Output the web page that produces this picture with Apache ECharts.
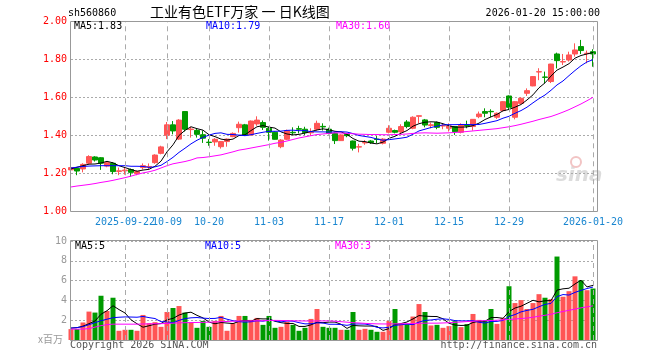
<!DOCTYPE html>
<html><head><meta charset="utf-8">
<script src="https://cdn.jsdelivr.net/npm/echarts@6/dist/echarts.min.js"></script>
<style>html,body{margin:0;padding:0;background:#fff}#c{width:660px;height:360px}</style>
</head><body><div id="c"></div>
<script>
const dates = ['2025-09-09','2025-09-10','2025-09-11','2025-09-12','2025-09-15','2025-09-16','2025-09-17','2025-09-18','2025-09-19','2025-09-22','2025-09-23','2025-09-24','2025-09-25','2025-09-26','2025-09-29','2025-09-30',
'2025-10-09','2025-10-10','2025-10-13','2025-10-14','2025-10-15','2025-10-16','2025-10-17','2025-10-20','2025-10-21','2025-10-22','2025-10-23','2025-10-24','2025-10-27','2025-10-28','2025-10-29','2025-10-30','2025-10-31',
'2025-11-03','2025-11-04','2025-11-05','2025-11-06','2025-11-07','2025-11-10','2025-11-11','2025-11-12','2025-11-13','2025-11-14','2025-11-17','2025-11-18','2025-11-19','2025-11-20','2025-11-21','2025-11-24','2025-11-25','2025-11-26','2025-11-27','2025-11-28',
'2025-12-01','2025-12-02','2025-12-03','2025-12-04','2025-12-05','2025-12-08','2025-12-09','2025-12-10','2025-12-11','2025-12-12','2025-12-15','2025-12-16','2025-12-17','2025-12-18','2025-12-19','2025-12-22','2025-12-23','2025-12-24','2025-12-25','2025-12-26','2025-12-29','2025-12-30','2025-12-31',
'2026-01-05','2026-01-06','2026-01-07','2026-01-08','2026-01-09','2026-01-12','2026-01-13','2026-01-14','2026-01-15','2026-01-16','2026-01-19','2026-01-20'];

const openP = [1.218,1.226,1.223,1.253,1.286,1.282,1.238,1.253,1.210,1.213,1.220,1.198,1.230,1.233,1.256,1.305,1.400,1.455,1.380,1.525,1.430,1.426,1.403,1.364,1.365,1.340,1.367,1.393,1.440,1.455,1.402,1.460,1.467,1.437,1.416,1.340,1.379,1.416,1.435,1.432,1.413,1.432,1.447,1.432,1.410,1.372,1.405,1.370,1.338,1.360,1.370,1.380,1.358,1.416,1.425,1.418,1.470,1.437,1.500,1.481,1.452,1.467,1.449,1.437,1.446,1.416,1.452,1.446,1.498,1.525,1.526,1.495,1.530,1.607,1.495,1.568,1.621,1.660,1.733,1.707,1.683,1.828,1.786,1.796,1.828,1.867,1.830,1.840];
const closeP = [1.230,1.212,1.247,1.288,1.270,1.253,1.256,1.209,1.213,1.217,1.205,1.209,1.240,1.236,1.296,1.339,1.455,1.423,1.480,1.432,1.433,1.405,1.385,1.362,1.379,1.367,1.380,1.410,1.458,1.402,1.475,1.480,1.442,1.416,1.379,1.375,1.425,1.413,1.432,1.414,1.416,1.463,1.444,1.410,1.372,1.402,1.398,1.332,1.340,1.362,1.362,1.378,1.380,1.437,1.416,1.446,1.446,1.495,1.503,1.454,1.455,1.442,1.451,1.449,1.419,1.454,1.449,1.484,1.512,1.516,1.524,1.516,1.577,1.547,1.577,1.595,1.635,1.709,1.735,1.705,1.775,1.793,1.788,1.823,1.849,1.846,1.832,1.828];
const highP = [1.244,1.230,1.253,1.295,1.290,1.285,1.262,1.258,1.230,1.233,1.225,1.215,1.252,1.252,1.300,1.345,1.470,1.475,1.485,1.525,1.445,1.437,1.425,1.380,1.385,1.370,1.383,1.415,1.472,1.460,1.478,1.500,1.478,1.445,1.420,1.380,1.430,1.442,1.450,1.445,1.437,1.477,1.463,1.440,1.415,1.405,1.410,1.372,1.355,1.375,1.375,1.396,1.385,1.453,1.430,1.458,1.480,1.500,1.504,1.486,1.467,1.472,1.463,1.463,1.448,1.463,1.477,1.485,1.525,1.542,1.537,1.520,1.580,1.610,1.580,1.600,1.647,1.712,1.753,1.735,1.776,1.835,1.828,1.840,1.884,1.902,1.846,1.853];
const lowP = [1.205,1.190,1.205,1.248,1.262,1.218,1.232,1.195,1.190,1.193,1.182,1.190,1.220,1.220,1.250,1.300,1.380,1.405,1.375,1.420,1.388,1.388,1.360,1.345,1.345,1.330,1.340,1.390,1.414,1.400,1.400,1.450,1.428,1.372,1.378,1.332,1.375,1.402,1.410,1.402,1.397,1.425,1.425,1.405,1.354,1.370,1.390,1.320,1.310,1.350,1.355,1.358,1.352,1.410,1.410,1.410,1.437,1.432,1.463,1.442,1.437,1.432,1.432,1.420,1.402,1.410,1.437,1.425,1.490,1.495,1.495,1.486,1.525,1.533,1.484,1.565,1.607,1.658,1.690,1.674,1.675,1.752,1.770,1.788,1.814,1.828,1.779,1.761];

const ma5 = [1.223,1.232,1.240,1.248,1.249,1.254,1.263,1.255,1.240,1.230,1.220,1.211,1.217,1.221,1.237,1.264,1.313,1.350,1.399,1.426,1.445,1.435,1.427,1.403,1.393,1.380,1.375,1.380,1.399,1.403,1.425,1.445,1.451,1.443,1.438,1.418,1.407,1.402,1.405,1.412,1.420,1.428,1.434,1.429,1.421,1.418,1.405,1.383,1.369,1.367,1.359,1.355,1.364,1.384,1.395,1.411,1.425,1.448,1.461,1.469,1.471,1.470,1.461,1.450,1.443,1.443,1.444,1.451,1.464,1.483,1.497,1.510,1.529,1.536,1.548,1.562,1.586,1.613,1.650,1.676,1.712,1.743,1.759,1.777,1.806,1.820,1.828,1.836];
const ma10 = [1.228,1.232,1.236,1.238,1.239,1.240,1.240,1.240,1.240,1.240,1.237,1.237,1.236,1.231,1.234,1.242,1.262,1.284,1.310,1.332,1.355,1.374,1.389,1.401,1.410,1.413,1.405,1.404,1.401,1.398,1.403,1.410,1.416,1.421,1.421,1.422,1.426,1.427,1.424,1.425,1.419,1.418,1.418,1.417,1.417,1.419,1.417,1.409,1.399,1.394,1.389,1.380,1.374,1.377,1.381,1.385,1.390,1.406,1.423,1.432,1.441,1.448,1.455,1.456,1.456,1.457,1.457,1.456,1.457,1.463,1.470,1.477,1.490,1.500,1.516,1.530,1.548,1.571,1.593,1.612,1.637,1.665,1.686,1.714,1.741,1.766,1.786,1.798];
const ma30 = [1.128,1.133,1.137,1.141,1.146,1.152,1.157,1.163,1.170,1.177,1.185,1.194,1.202,1.208,1.216,1.228,1.240,1.250,1.256,1.262,1.270,1.281,1.283,1.287,1.292,1.297,1.305,1.313,1.322,1.327,1.333,1.339,1.345,1.351,1.358,1.363,1.370,1.378,1.386,1.392,1.398,1.404,1.407,1.410,1.413,1.412,1.410,1.408,1.406,1.405,1.404,1.404,1.403,1.403,1.404,1.405,1.407,1.410,1.412,1.413,1.412,1.411,1.412,1.413,1.415,1.417,1.420,1.423,1.426,1.429,1.432,1.435,1.440,1.445,1.451,1.458,1.466,1.474,1.483,1.491,1.499,1.510,1.522,1.535,1.550,1.565,1.582,1.600];

const vol = [1.10,1.10,1.77,2.87,2.77,4.47,2.93,4.27,0.93,1.03,1.03,0.93,2.53,1.70,1.80,1.33,2.83,3.23,3.43,2.77,1.77,1.23,1.93,1.33,1.93,2.43,0.93,1.70,2.43,2.43,2.03,2.23,1.53,2.43,1.23,1.33,1.83,1.53,0.93,1.23,2.13,3.13,1.33,1.23,1.23,1.03,1.03,2.83,1.03,1.13,1.03,0.83,0.83,1.93,3.13,1.60,1.60,2.37,3.63,2.83,1.47,1.53,1.23,1.40,1.90,1.30,1.60,2.63,2.03,1.93,3.13,1.63,2.23,5.43,3.73,4.03,3.13,3.73,4.63,4.27,4.13,8.43,4.37,4.93,6.43,6.03,5.03,5.20];
const vma5 = [1.20,1.25,1.40,1.65,1.92,2.60,2.96,3.46,3.07,2.73,2.04,1.64,1.29,1.44,1.60,1.66,2.04,2.18,2.52,2.72,2.81,2.49,2.23,1.81,1.64,1.77,1.71,1.66,1.88,1.98,1.90,2.16,2.13,2.13,1.89,1.75,1.67,1.67,1.37,1.37,1.53,1.79,1.75,1.81,1.81,1.59,1.17,1.47,1.43,1.41,1.41,1.37,0.97,1.15,1.55,1.66,1.82,2.13,2.47,2.41,2.38,2.37,2.14,1.69,1.51,1.47,1.49,1.77,1.89,1.90,2.26,2.27,2.19,2.87,3.23,3.41,3.71,4.01,3.85,3.96,3.98,5.04,5.17,5.23,5.66,6.04,5.36,5.52];
const vma10 = [1.20,1.25,1.35,1.55,1.75,1.95,2.10,2.25,2.30,2.33,2.32,2.30,2.38,2.26,2.17,1.85,1.84,1.74,1.98,2.16,2.24,2.27,2.21,2.17,2.18,2.29,2.10,1.95,1.85,1.81,1.84,1.94,1.90,2.01,1.94,1.83,1.92,1.90,1.75,1.63,1.64,1.73,1.71,1.59,1.59,1.56,1.48,1.61,1.62,1.61,1.50,1.27,1.22,1.29,1.48,1.54,1.60,1.55,1.81,1.98,2.02,2.10,2.14,2.08,1.96,1.93,1.93,1.96,1.79,1.71,1.87,1.88,1.98,2.38,2.57,2.84,2.99,3.10,3.36,3.60,3.70,4.38,4.59,4.54,4.81,5.01,5.20,5.35];
const vma30 = [1.10,1.10,1.10,1.15,1.30,1.45,1.55,1.60,1.60,1.60,1.60,1.60,1.62,1.63,1.64,1.65,1.67,1.70,1.73,1.75,1.76,1.77,1.78,1.80,1.82,1.85,1.87,1.90,1.92,1.93,1.93,1.94,1.95,1.97,1.98,1.97,1.96,1.94,1.93,1.92,1.92,1.92,1.93,1.93,1.90,1.85,1.80,1.75,1.72,1.68,1.65,1.63,1.62,1.62,1.63,1.64,1.65,1.66,1.68,1.70,1.70,1.70,1.72,1.75,1.78,1.82,1.86,1.90,1.93,1.95,1.97,2.00,2.03,2.08,2.12,2.17,2.22,2.30,2.40,2.50,2.60,2.75,2.88,3.00,3.12,3.25,3.35,3.45];

const tickDates = ['2025-09-22','2025-10-09','2025-10-20','2025-11-03','2025-11-17','2025-12-01','2025-12-15','2025-12-29','2026-01-20'];
const tickLabels = ['2025-09-22','10-09','10-20','11-03','11-17','12-01','12-15','12-29','2026-01-20'];

const RED = '#ff5555', GREEN = '#009a00';
const MONO = '"DejaVu Sans Mono", monospace';

const kData = dates.map((d, i) => [openP[i], closeP[i], lowP[i], highP[i]]);
const vData = vol.map((v, i) => ({ value: v, itemStyle: { color: closeP[i] >= openP[i] ? RED : GREEN } }));
const tickIdx = tickDates.map(d => dates.indexOf(d));
const firstTick = tickIdx[0];

const vline = {
  silent: true, symbol: ['none', 'none'], label: { show: false },
  lineStyle: { color: '#aaa', type: [5, 4], width: 1 },
  data: tickDates.map(d => ({ xAxis: d }))
};
const maLine = (name, data, color, xi, yi) => ({
  name, type: 'line', data, xAxisIndex: xi, yAxisIndex: yi, showSymbol: false, symbol: 'none',
  lineStyle: { color, width: 1 }, z: 4, silent: true, animation: false
});
const labelFmt = (v) => { const k = tickDates.indexOf(v); return k >= 0 ? tickLabels[k] : ''; };
const baseX = (extra) => Object.assign({
  type: 'category', data: dates, boundaryGap: false,
  axisLine: { show: false }, axisTick: { show: false }, splitLine: { show: false }
}, extra);

const chart = echarts.init(document.getElementById('c'), null, { renderer: 'canvas' });
chart.setOption({
  animation: false,
  backgroundColor: '#fff',
  grid: [
    { left: 71, right: 67, top: 21.3, height: 190, show: false },
    { left: 71, right: 67, top: 241, height: 99, show: false }
  ],
  xAxis: [
    baseX({ gridIndex: 0, position: 'bottom',
      axisLabel: { margin: 6, fontFamily: MONO, fontSize: 10, color: '#1a86d0', hideOverlap: false,
        interval: (idx) => idx !== firstTick && tickIdx.indexOf(idx) >= 0, formatter: labelFmt } }),
    baseX({ gridIndex: 1, axisLabel: { show: false } }),
    baseX({ gridIndex: 0, position: 'bottom', offset: 0,
      axisLabel: { margin: 6, fontFamily: MONO, fontSize: 10, color: '#1a86d0', hideOverlap: false,
        interval: (idx) => idx === firstTick, formatter: labelFmt } })
  ],
  yAxis: [
    { type: 'value', gridIndex: 0, min: 1.0, max: 2.0, interval: 0.2,
      axisLine: { show: false }, axisTick: { show: false },
      axisLabel: { margin: 4, fontFamily: MONO, fontSize: 10, color: '#ff0000', formatter: (v) => v.toFixed(2) },
      splitLine: { show: true, lineStyle: { color: '#aaa', type: [2, 2], width: 1 } } },
    { type: 'value', gridIndex: 1, min: 0, max: 10, interval: 2,
      axisLine: { show: false }, axisTick: { show: false },
      axisLabel: { margin: 4, fontFamily: MONO, fontSize: 10, color: '#999', formatter: (v) => v === 0 ? '' : String(v) },
      splitLine: { show: true, lineStyle: { color: '#aaa', type: [2, 2], width: 1 } } }
  ],
  series: [
    { type: 'line', xAxisIndex: 0, yAxisIndex: 0, data: [], z: 1, markLine: vline, silent: true },
    { type: 'line', xAxisIndex: 1, yAxisIndex: 1, data: [], z: 1, markLine: vline, silent: true },
    { type: 'line', xAxisIndex: 2, yAxisIndex: 0, data: [], silent: true },
    { name: 'K', type: 'candlestick', xAxisIndex: 0, yAxisIndex: 0, data: kData, barWidth: 5, clip: false, z: 3,
      itemStyle: { color: RED, color0: GREEN, borderColor: RED, borderColor0: GREEN, borderWidth: 1 } },
    maLine('MA5', ma5, '#000000', 0, 0),
    maLine('MA10', ma10, '#0000ff', 0, 0),
    maLine('MA30', ma30, '#ff00ff', 0, 0),
    { name: 'VOL', type: 'bar', xAxisIndex: 1, yAxisIndex: 1, data: vData, barWidth: 5, z: 3 },
    maLine('VMA5', vma5, '#000000', 1, 1),
    maLine('VMA10', vma10, '#0000ff', 1, 1),
    maLine('VMA30', vma30, '#ff00ff', 1, 1)
  ],
  graphic: [
    { type: 'rect', shape: { x: 70.5, y: 21.5, width: 527, height: 190 }, style: { fill: null, stroke: '#999', lineWidth: 1 }, z: 10, silent: true },
    { type: 'rect', shape: { x: 70.5, y: 240.5, width: 527, height: 100 }, style: { fill: null, stroke: '#999', lineWidth: 1 }, z: 10, silent: true },
    { type: 'text', left: 68, top: 8, style: { text: 'sh560860', font: '10px ' + MONO, fill: '#000' } },
    { type: 'text', left: 150, top: 5, style: { text: '工业有色ETF万家 一 日K线图', font: '14px "Noto Sans CJK SC"', fill: '#000' } },
    { type: 'text', right: 60, top: 8, style: { text: '2026-01-20 15:00:00', font: '10px ' + MONO, fill: '#000' } },
    { type: 'text', left: 74, top: 21, style: { text: 'MA5:1.83', font: '10px ' + MONO, fill: '#000' }, z: 20 },
    { type: 'text', left: 206, top: 21, style: { text: 'MA10:1.79', font: '10px ' + MONO, fill: '#0000ff' }, z: 20 },
    { type: 'text', left: 336, top: 21, style: { text: 'MA30:1.60', font: '10px ' + MONO, fill: '#ff00ff' }, z: 20 },
    { type: 'text', left: 75, top: 241, style: { text: 'MA5:5', font: '10px ' + MONO, fill: '#000' }, z: 20 },
    { type: 'text', left: 205, top: 241, style: { text: 'MA10:5', font: '10px ' + MONO, fill: '#0000ff' }, z: 20 },
    { type: 'text', left: 335, top: 241, style: { text: 'MA30:3', font: '10px ' + MONO, fill: '#ff00ff' }, z: 20 },
    { type: 'text', left: 38, top: 334, style: { text: 'x百万', font: '10px "Noto Sans CJK SC"', fill: '#999' } },
    { type: 'text', left: 70, top: 340, style: { text: 'Copyright 2026 SINA.COM', font: '10px ' + MONO, fill: '#555' } },
    { type: 'text', right: 63, top: 340, style: { text: 'http://finance.sina.com.cn', font: '10px ' + MONO, fill: '#555' } },
    { type: 'text', left: 556, top: 166, style: { text: 'sina', font: 'italic bold 20px "DejaVu Sans"', fill: '#dcdcdc' }, z: 0 },
    { type: 'circle', shape: { cx: 576, cy: 162, r: 5 }, style: { fill: null, stroke: '#f2c4c4', lineWidth: 2 }, z: 0 }
  ]
});
</script></body></html>
